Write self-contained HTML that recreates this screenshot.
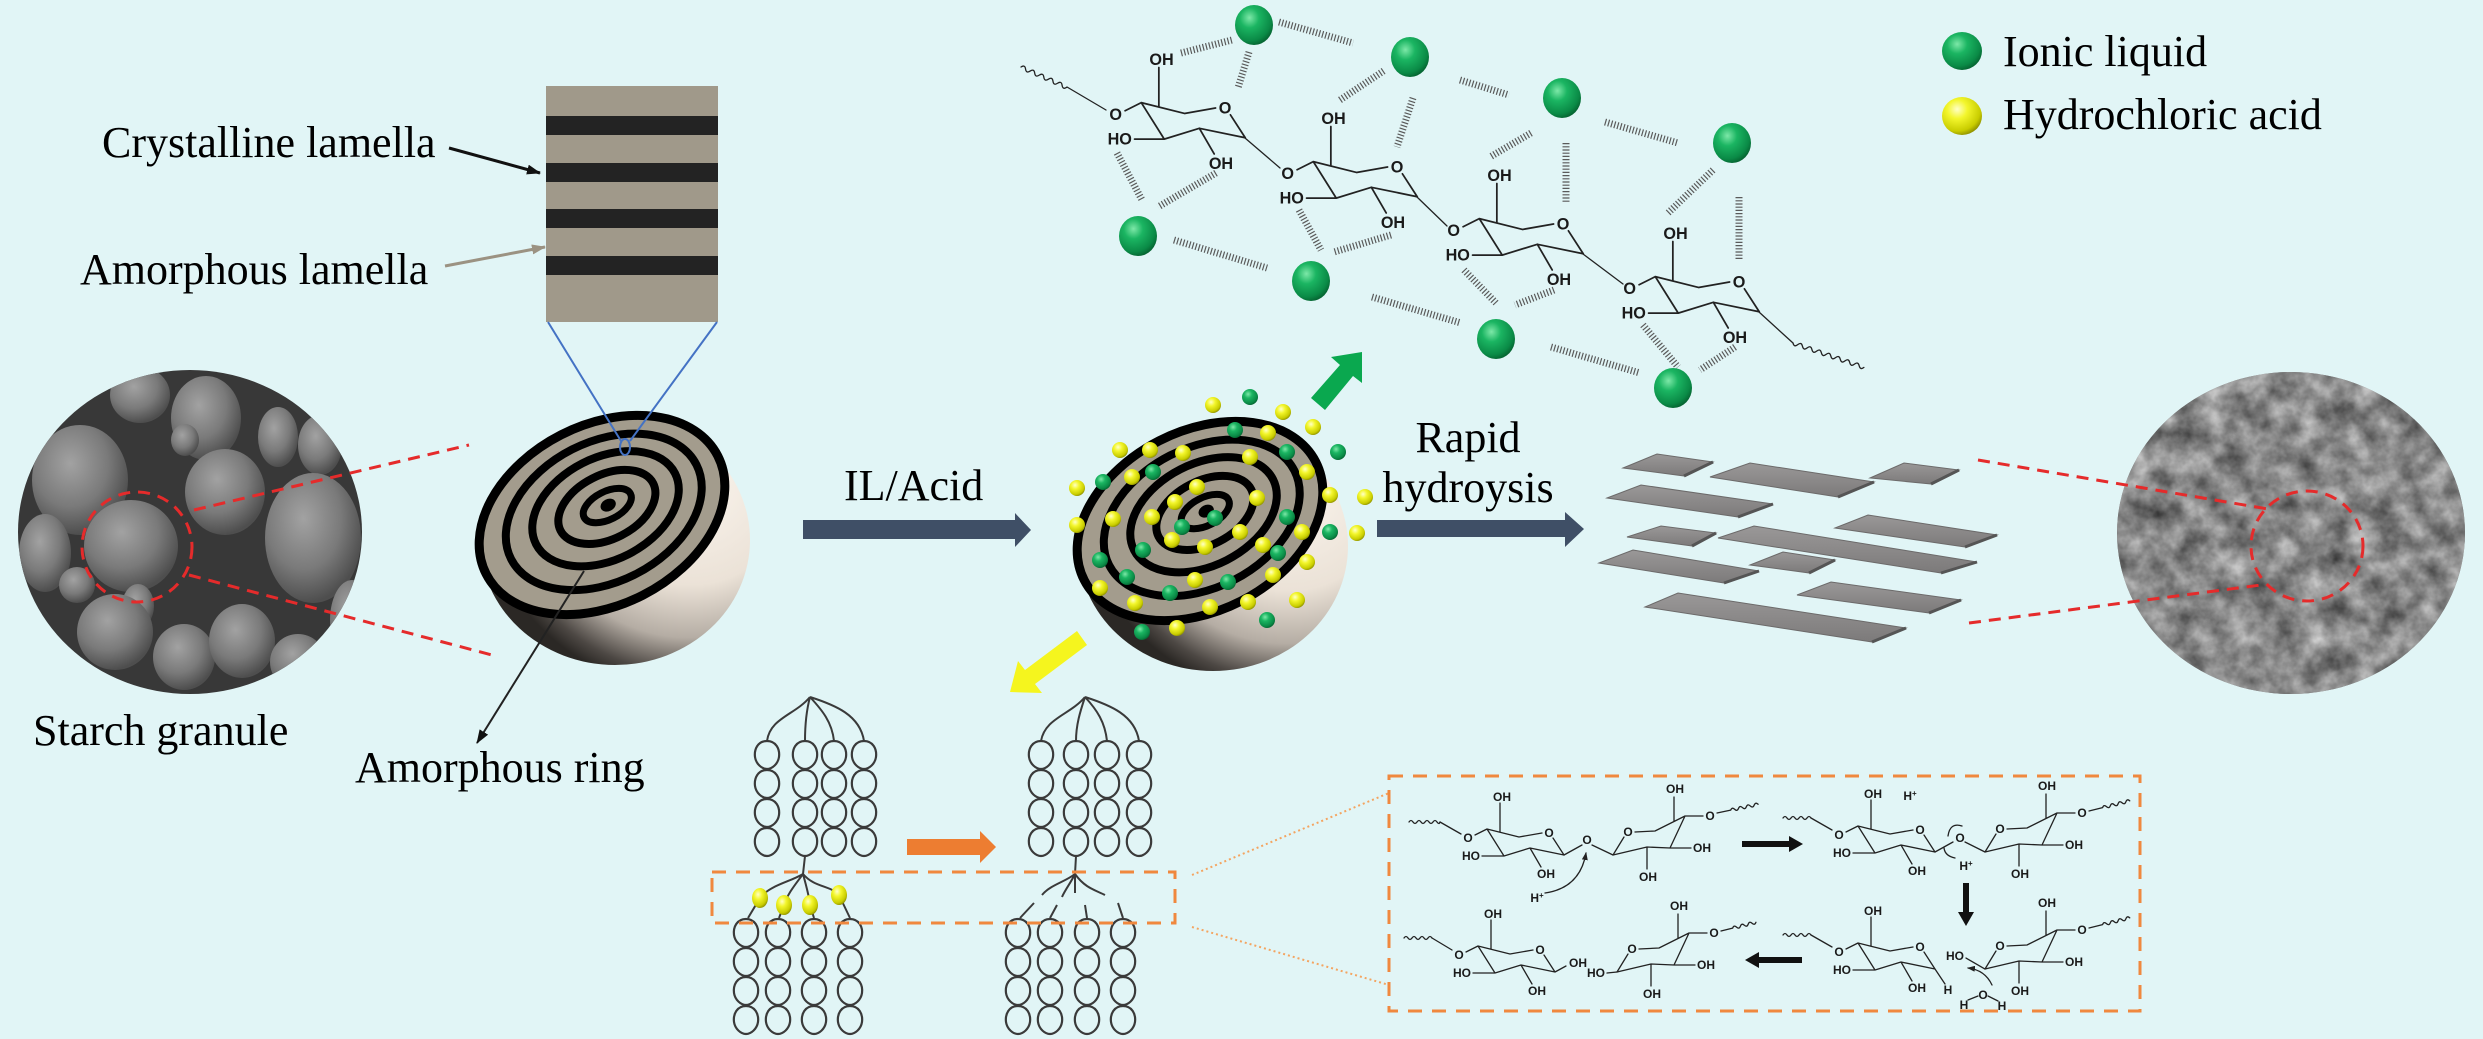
<!DOCTYPE html>
<html><head><meta charset="utf-8">
<style>
html,body{margin:0;padding:0;background:#e1f5f6;}
svg{display:block;}
.lbl{font-family:"Liberation Serif",serif;font-size:44px;fill:#000;}
.ch{font-family:"Liberation Sans",sans-serif;font-weight:bold;font-size:12px;fill:#1a1a1a;text-anchor:middle;}
.bd{stroke:#222;stroke-width:1.3;fill:none;stroke-linecap:round;stroke-linejoin:round;}
.hb{stroke:#5a5a5a;stroke-width:7;stroke-dasharray:1.2 2;fill:none;}
.loop{fill:none;stroke:#3a3a3a;stroke-width:2.2;}
.br{fill:none;stroke:#3a3a3a;stroke-width:2;}
.slab{fill:url(#slabG);stroke:#6c6a6a;stroke-width:1;}
.sd{stroke:#555;stroke-width:3;}
</style></head><body>
<svg width="2483" height="1039" viewBox="0 0 2483 1039" xmlns="http://www.w3.org/2000/svg">
<defs>
  <radialGradient id="gB" cx="0.38" cy="0.32" r="0.72">
    <stop offset="0" stop-color="#7de8a8"/><stop offset="0.35" stop-color="#1bb562"/><stop offset="0.8" stop-color="#0a8a46"/><stop offset="1" stop-color="#05602f"/>
  </radialGradient>
  <radialGradient id="yB" cx="0.38" cy="0.32" r="0.72">
    <stop offset="0" stop-color="#ffffc8"/><stop offset="0.35" stop-color="#f3f62c"/><stop offset="0.8" stop-color="#c9cd00"/><stop offset="1" stop-color="#8a8c00"/>
  </radialGradient>
  <radialGradient id="bodyG" gradientUnits="userSpaceOnUse" cx="690" cy="480" r="210">
    <stop offset="0" stop-color="#fbf5ee"/><stop offset="0.5" stop-color="#ebe2d7"/><stop offset="0.75" stop-color="#b5ada4"/><stop offset="0.92" stop-color="#4d4844"/><stop offset="1" stop-color="#2b2825"/>
  </radialGradient>
  <radialGradient id="gran" cx="0.4" cy="0.35" r="0.65">
    <stop offset="0" stop-color="#a2a2a2"/><stop offset="0.6" stop-color="#7a7a7a"/><stop offset="1" stop-color="#4e4e4e"/>
  </radialGradient>
  <linearGradient id="slabG" x1="0" y1="0" x2="0" y2="1">
    <stop offset="0" stop-color="#9a9898"/><stop offset="1" stop-color="#7c7a7a"/>
  </linearGradient>
  <clipPath id="bodyClip"><polygon points="246,697 958,333 1140,689 428,1053"/></clipPath>
  <clipPath id="cL"><ellipse cx="190" cy="532" rx="172" ry="162"/></clipPath>
  <clipPath id="cR"><ellipse cx="2291" cy="533" rx="174" ry="161"/></clipPath>
  <filter id="noise" filterUnits="userSpaceOnUse" x="2110" y="365" width="365" height="340" color-interpolation-filters="sRGB">
    <feTurbulence type="fractalNoise" baseFrequency="0.04" numOctaves="4" seed="7" result="n"/>
    <feColorMatrix in="n" type="matrix" values="0.7 0 0 0 0.18  0.7 0 0 0 0.18  0.7 0 0 0 0.18  0 0 0 0 1"/>
  </filter>
  <marker id="ahB" markerWidth="14" markerHeight="10" refX="13" refY="5" orient="auto" markerUnits="userSpaceOnUse"><path d="M0,0 L14,5 L0,10 Z" fill="#111"/></marker>
  <marker id="ahG" markerWidth="14" markerHeight="10" refX="13" refY="5" orient="auto" markerUnits="userSpaceOnUse"><path d="M0,0 L14,5 L0,10 Z" fill="#9b9282"/></marker>
  <marker id="ahS" markerWidth="8" markerHeight="6" refX="7" refY="3" orient="auto" markerUnits="userSpaceOnUse"><path d="M0,0 L8,3 L0,6 Z" fill="#222"/></marker>
  <g id="col">
    <path class="loop" d="M0,-14 C9,-14 13,-6 12,2 C11,9 5,14 0,14 C-5,14 -11,9 -12,2 C-13,-6 -9,-14 0,-14 Z"/>
    <path class="loop" transform="translate(0,29)" d="M0,-14 C9,-14 13,-6 12,2 C11,9 5,14 0,14 C-5,14 -11,9 -12,2 C-13,-6 -9,-14 0,-14 Z"/>
    <path class="loop" transform="translate(0,58)" d="M0,-14 C9,-14 13,-6 12,2 C11,9 5,14 0,14 C-5,14 -11,9 -12,2 C-13,-6 -9,-14 0,-14 Z"/>
    <path class="loop" transform="translate(0,87)" d="M0,-14 C9,-14 13,-6 12,2 C11,9 5,14 0,14 C-5,14 -11,9 -12,2 C-13,-6 -9,-14 0,-14 Z"/>
  </g>
</defs>

<rect x="0" y="0" width="2483" height="1039" fill="#e1f5f6"/>

<!-- Lamella stack -->
<rect x="546" y="86" width="172" height="236" fill="#a0998a"/>
<rect x="546" y="116" width="172" height="19" fill="#232323"/>
<rect x="546" y="163" width="172" height="19" fill="#232323"/>
<rect x="546" y="209" width="172" height="19" fill="#232323"/>
<rect x="546" y="256" width="172" height="19" fill="#232323"/>
<text class="lbl" x="102" y="157">Crystalline lamella</text>
<text class="lbl" x="80" y="284">Amorphous lamella</text>
<line x1="449" y1="148" x2="540" y2="173" stroke="#111" stroke-width="3" marker-end="url(#ahB)"/>
<line x1="445" y1="266" x2="545" y2="247" stroke="#9b9282" stroke-width="3" marker-end="url(#ahG)"/>

<!-- Left SEM -->
<g clip-path="url(#cL)">
  <rect x="10" y="360" width="370" height="340" fill="#383838"/>
  <ellipse cx="206" cy="418" rx="35" ry="42" fill="url(#gran)"/>
  <ellipse cx="80" cy="480" rx="48" ry="55" fill="url(#gran)"/>
  <ellipse cx="225" cy="492" rx="40" ry="43" fill="url(#gran)"/>
  <ellipse cx="185" cy="440" rx="14" ry="16" fill="url(#gran)"/>
  <ellipse cx="278" cy="437" rx="20" ry="30" fill="url(#gran)"/>
  <ellipse cx="320" cy="445" rx="22" ry="30" fill="url(#gran)"/>
  <ellipse cx="313" cy="538" rx="48" ry="65" fill="url(#gran)"/>
  <ellipse cx="45" cy="553" rx="26" ry="39" fill="url(#gran)"/>
  <ellipse cx="77" cy="585" rx="18" ry="18" fill="url(#gran)"/>
  <ellipse cx="131" cy="546" rx="47" ry="46" fill="url(#gran)"/>
  <ellipse cx="138" cy="606" rx="16" ry="22" fill="url(#gran)"/>
  <ellipse cx="115" cy="632" rx="38" ry="38" fill="url(#gran)"/>
  <ellipse cx="184" cy="657" rx="31" ry="33" fill="url(#gran)"/>
  <ellipse cx="242" cy="641" rx="33" ry="37" fill="url(#gran)"/>
  <ellipse cx="298" cy="662" rx="28" ry="28" fill="url(#gran)"/>
  <ellipse cx="140" cy="395" rx="30" ry="28" fill="url(#gran)"/>
  <ellipse cx="352" cy="620" rx="22" ry="40" fill="url(#gran)"/>
</g>
<ellipse cx="137" cy="547" rx="55" ry="55" fill="none" stroke="#e52b2b" stroke-width="3" stroke-dasharray="12 8"/>
<line x1="194" y1="510" x2="469" y2="445" stroke="#e52b2b" stroke-width="3" stroke-dasharray="12 8"/>
<line x1="189" y1="575" x2="492" y2="655" stroke="#e52b2b" stroke-width="3" stroke-dasharray="12 8"/>
<text class="lbl" x="33" y="745">Starch granule</text>

<!-- Half sphere 1 -->
<g>
  <ellipse cx="615" cy="540" rx="135" ry="125" fill="url(#bodyG)" clip-path="url(#bodyClip)"/>
  <g transform="translate(602,515) rotate(-27)">
    <ellipse rx="130" ry="90" fill="#a39c8d" stroke="#000" stroke-width="9"/>
    <ellipse cx="3" cy="-2" rx="104" ry="70" fill="none" stroke="#000" stroke-width="8"/>
    <ellipse cx="6" cy="-4" rx="78" ry="51" fill="none" stroke="#000" stroke-width="8"/>
    <ellipse cx="8" cy="-5" rx="52" ry="32" fill="none" stroke="#000" stroke-width="8"/>
    <ellipse cx="9" cy="-6" rx="26" ry="14" fill="none" stroke="#000" stroke-width="7"/>
    <ellipse cx="10" cy="-6" rx="8" ry="6" fill="#000"/>
  </g>
</g>
<line x1="548" y1="322" x2="621" y2="441" stroke="#4472c4" stroke-width="2"/>
<line x1="717" y1="322" x2="630" y2="441" stroke="#4472c4" stroke-width="2"/>
<ellipse cx="625" cy="447" rx="5" ry="8" fill="none" stroke="#4472c4" stroke-width="2"/>
<line x1="584" y1="571" x2="477" y2="743" stroke="#222" stroke-width="2" marker-end="url(#ahB)"/>
<text class="lbl" x="355" y="782">Amorphous ring</text>

<!-- IL/Acid arrow -->
<text class="lbl" x="844" y="500">IL/Acid</text>
<polygon points="803,520 1015,520 1015,513 1031,530 1015,547 1015,539 803,539" fill="#3f4f66"/>

<!-- Half sphere 2 -->
<g transform="translate(598,6)">
  <ellipse cx="615" cy="540" rx="135" ry="125" fill="url(#bodyG)" clip-path="url(#bodyClip)"/>
  <g transform="translate(602,515) rotate(-27)">
    <ellipse rx="130" ry="90" fill="#a39c8d" stroke="#000" stroke-width="9"/>
    <ellipse cx="3" cy="-2" rx="104" ry="70" fill="none" stroke="#000" stroke-width="8"/>
    <ellipse cx="6" cy="-4" rx="78" ry="51" fill="none" stroke="#000" stroke-width="8"/>
    <ellipse cx="8" cy="-5" rx="52" ry="32" fill="none" stroke="#000" stroke-width="8"/>
    <ellipse cx="9" cy="-6" rx="26" ry="14" fill="none" stroke="#000" stroke-width="7"/>
    <ellipse cx="10" cy="-6" rx="8" ry="6" fill="#000"/>
  </g>
</g>
<!-- dots on sphere 2 -->
<g fill="url(#yB)">
  <circle cx="1213" cy="405" r="8"/><circle cx="1283" cy="412" r="8"/><circle cx="1313" cy="427" r="8"/>
  <circle cx="1120" cy="450" r="8"/><circle cx="1150" cy="450" r="8"/><circle cx="1183" cy="453" r="8"/>
  <circle cx="1250" cy="457" r="8"/><circle cx="1268" cy="433" r="8"/><circle cx="1307" cy="472" r="8"/>
  <circle cx="1077" cy="488" r="8"/><circle cx="1132" cy="477" r="8"/><circle cx="1197" cy="487" r="8"/>
  <circle cx="1175" cy="502" r="8"/><circle cx="1257" cy="498" r="8"/><circle cx="1330" cy="495" r="8"/>
  <circle cx="1365" cy="497" r="8"/><circle cx="1077" cy="525" r="8"/><circle cx="1113" cy="519" r="8"/>
  <circle cx="1152" cy="517" r="8"/><circle cx="1172" cy="540" r="8"/><circle cx="1205" cy="547" r="8"/>
  <circle cx="1240" cy="532" r="8"/><circle cx="1263" cy="545" r="8"/><circle cx="1302" cy="532" r="8"/>
  <circle cx="1357" cy="533" r="8"/><circle cx="1307" cy="562" r="8"/><circle cx="1273" cy="575" r="8"/>
  <circle cx="1195" cy="580" r="8"/><circle cx="1100" cy="588" r="8"/><circle cx="1135" cy="603" r="8"/>
  <circle cx="1210" cy="607" r="8"/><circle cx="1248" cy="602" r="8"/><circle cx="1297" cy="600" r="8"/>
  <circle cx="1177" cy="628" r="8"/>
</g>
<g fill="url(#gB)">
  <circle cx="1250" cy="397" r="8"/><circle cx="1235" cy="430" r="8"/><circle cx="1287" cy="452" r="8"/>
  <circle cx="1338" cy="452" r="8"/><circle cx="1103" cy="482" r="8"/><circle cx="1153" cy="472" r="8"/>
  <circle cx="1215" cy="518" r="8"/><circle cx="1182" cy="527" r="8"/><circle cx="1287" cy="517" r="8"/>
  <circle cx="1330" cy="532" r="8"/><circle cx="1143" cy="550" r="8"/><circle cx="1100" cy="560" r="8"/>
  <circle cx="1278" cy="553" r="8"/><circle cx="1127" cy="577" r="8"/><circle cx="1228" cy="582" r="8"/>
  <circle cx="1170" cy="593" r="8"/><circle cx="1142" cy="632" r="8"/><circle cx="1267" cy="620" r="8"/>
</g>
<!-- green & yellow arrows -->
<polygon points="1311,398 1340,365 1331,357 1362,352 1362,383 1353,376 1325,410" fill="#0aa84f"/>
<polygon points="1077,631 1025,670 1018,661 1010,692 1042,693 1035,684 1087,645" fill="#f5f51e"/>

<!-- Rapid hydroysis -->
<text class="lbl" x="1468" y="452" text-anchor="middle">Rapid</text>
<text class="lbl" x="1468" y="502" text-anchor="middle">hydroysis</text>
<polygon points="1377,520 1565,520 1565,512 1584,529 1565,547 1565,537 1377,537" fill="#3f4f66"/>

<!-- slabs -->
<g>
  <polygon class="slab" points="1623,468 1657,454 1713,462 1684,476"/><line class="sd" x1="1713" y1="462" x2="1684" y2="476"/>
  <polygon class="slab" points="1710,477 1750,463 1874,482 1838,497"/><line class="sd" x1="1874" y1="482" x2="1838" y2="497"/>
  <polygon class="slab" points="1870,478 1904,463 1959,470 1931,484"/><line class="sd" x1="1959" y1="470" x2="1931" y2="484"/>
  <polygon class="slab" points="1607,498 1641,485 1773,504 1738,517"/><line class="sd" x1="1773" y1="504" x2="1738" y2="517"/>
  <polygon class="slab" points="1835,528 1868,515 1997,535 1965,547"/><line class="sd" x1="1997" y1="535" x2="1965" y2="547"/>
  <polygon class="slab" points="1627,537 1661,526 1716,533 1692,546"/><line class="sd" x1="1716" y1="533" x2="1692" y2="546"/>
  <polygon class="slab" points="1750,565 1783,552 1835,560 1809,573"/><line class="sd" x1="1835" y1="560" x2="1809" y2="573"/>
  <polygon class="slab" points="1718,538 1754,526 1977,562 1941,573"/><line class="sd" x1="1977" y1="562" x2="1941" y2="573"/>
  <polygon class="slab" points="1599,563 1633,550 1759,571 1724,583"/><line class="sd" x1="1759" y1="571" x2="1724" y2="583"/>
  <polygon class="slab" points="1797,595 1831,582 1961,600 1929,613"/><line class="sd" x1="1961" y1="600" x2="1929" y2="613"/>
  <polygon class="slab" points="1645,607 1678,593 1906,628 1872,642"/><line class="sd" x1="1906" y1="628" x2="1872" y2="642"/>
</g>

<!-- Right SEM -->
<ellipse cx="2291" cy="533" rx="174" ry="161" fill="#858585"/>
<rect x="2110" y="365" width="365" height="340" filter="url(#noise)" clip-path="url(#cR)"/>
<ellipse cx="2307" cy="546" rx="56" ry="55" fill="none" stroke="#e52b2b" stroke-width="3" stroke-dasharray="12 8"/>
<line x1="1978" y1="460" x2="2268" y2="509" stroke="#e52b2b" stroke-width="3" stroke-dasharray="12 8"/>
<line x1="1969" y1="623" x2="2261" y2="585" stroke="#e52b2b" stroke-width="3" stroke-dasharray="12 8"/>

<!-- Legend -->
<ellipse cx="1962" cy="51" rx="20" ry="19" fill="url(#gB)"/>
<ellipse cx="1962" cy="116" rx="20" ry="19" fill="url(#yB)"/>
<text class="lbl" x="2003" y="66">Ionic liquid</text>
<text class="lbl" x="2003" y="129">Hydrochloric acid</text>

<!-- Top chemical structure -->
<g>
  <path class="bd" stroke-width="1.6" transform="translate(1021,67) rotate(24)" d="M0,0 q2.5,-4 5,0 t5,0 t5,0 t5,0 t5,0 t5,0 t5,0 t5,0 t5,0 t5,0"/>
  <line class="bd" stroke-width="1.6" x1="1067" y1="87" x2="1106" y2="110"/>
  <g transform="translate(1225,104) scale(1.35)">
    <path class="bd" stroke-width="1.2" d="M-62,-1 L-30,7 L-7,3 M4,8 L15,25 L-19,18 L-45,26 L-62,-1 M-49,2 L-49,-27 M-74,5 L-62,-1 M-67,26 L-45,26 M-19,18 L-8,37"/>
    <text class="ch" x="0" y="7">O</text><text class="ch" x="-81" y="12">O</text>
    <text class="ch" x="-47" y="-29">OH</text><text class="ch" x="-78" y="30">HO</text><text class="ch" x="-3" y="48">OH</text>
  </g>
  <line class="bd" stroke-width="1.6" x1="1245" y1="138" x2="1280" y2="168"/>
  <g transform="translate(1397,163) scale(1.35)">
    <path class="bd" stroke-width="1.2" d="M-62,-1 L-30,7 L-7,3 M4,8 L15,25 L-19,18 L-45,26 L-62,-1 M-49,2 L-49,-27 M-74,5 L-62,-1 M-67,26 L-45,26 M-19,18 L-8,37"/>
    <text class="ch" x="0" y="7">O</text><text class="ch" x="-81" y="12">O</text>
    <text class="ch" x="-47" y="-29">OH</text><text class="ch" x="-78" y="30">HO</text><text class="ch" x="-3" y="48">OH</text>
  </g>
  <line class="bd" stroke-width="1.6" x1="1417" y1="197" x2="1447" y2="226"/>
  <g transform="translate(1563,220) scale(1.35)">
    <path class="bd" stroke-width="1.2" d="M-62,-1 L-30,7 L-7,3 M4,8 L15,25 L-19,18 L-45,26 L-62,-1 M-49,2 L-49,-27 M-74,5 L-62,-1 M-67,26 L-45,26 M-19,18 L-8,37"/>
    <text class="ch" x="0" y="7">O</text><text class="ch" x="-81" y="12">O</text>
    <text class="ch" x="-47" y="-29">OH</text><text class="ch" x="-78" y="30">HO</text><text class="ch" x="-3" y="48">OH</text>
  </g>
  <line class="bd" stroke-width="1.6" x1="1583" y1="254" x2="1623" y2="284"/>
  <g transform="translate(1739,278) scale(1.35)">
    <path class="bd" stroke-width="1.2" d="M-62,-1 L-30,7 L-7,3 M4,8 L15,25 L-19,18 L-45,26 L-62,-1 M-49,2 L-49,-27 M-74,5 L-62,-1 M-67,26 L-45,26 M-19,18 L-8,37"/>
    <text class="ch" x="0" y="7">O</text><text class="ch" x="-81" y="12">O</text>
    <text class="ch" x="-47" y="-29">OH</text><text class="ch" x="-78" y="30">HO</text><text class="ch" x="-3" y="48">OH</text>
  </g>
  <line class="bd" stroke-width="1.6" x1="1759" y1="312" x2="1793" y2="343"/>
  <path class="bd" stroke-width="1.6" transform="translate(1793,343) rotate(19)" d="M0,0 q2.5,4 5,0 t5,0 t5,0 t5,0 t5,0 t5,0 t5,0 t5,0 t5,0 t5,0 t5,0 t5,0 t5,0 t5,0 t5,0"/>
  <!-- hydrogen-bond hatches -->
  <line class="hb" x1="1181" y1="53" x2="1232" y2="40"/>
  <line class="hb" x1="1279" y1="22" x2="1353" y2="43"/>
  <line class="hb" x1="1249" y1="52" x2="1238" y2="88"/>
  <line class="hb" x1="1340" y1="100" x2="1385" y2="70"/>
  <line class="hb" x1="1413" y1="98" x2="1397" y2="147"/>
  <line class="hb" x1="1460" y1="80" x2="1509" y2="95"/>
  <line class="hb" x1="1605" y1="122" x2="1678" y2="143"/>
  <line class="hb" x1="1531" y1="133" x2="1490" y2="157"/>
  <line class="hb" x1="1566" y1="143" x2="1566" y2="203"/>
  <line class="hb" x1="1713" y1="170" x2="1668" y2="213"/>
  <line class="hb" x1="1739" y1="197" x2="1739" y2="260"/>
  <line class="hb" x1="1117" y1="153" x2="1142" y2="200"/>
  <line class="hb" x1="1216" y1="173" x2="1158" y2="207"/>
  <line class="hb" x1="1174" y1="240" x2="1267" y2="268"/>
  <line class="hb" x1="1299" y1="210" x2="1321" y2="250"/>
  <line class="hb" x1="1391" y1="235" x2="1334" y2="252"/>
  <line class="hb" x1="1372" y1="297" x2="1461" y2="323"/>
  <line class="hb" x1="1464" y1="270" x2="1496" y2="303"/>
  <line class="hb" x1="1554" y1="290" x2="1515" y2="305"/>
  <line class="hb" x1="1551" y1="347" x2="1640" y2="373"/>
  <line class="hb" x1="1643" y1="325" x2="1678" y2="367"/>
  <line class="hb" x1="1735" y1="347" x2="1700" y2="370"/>
  <!-- big green balls -->
  <ellipse cx="1254" cy="25" rx="19" ry="20" fill="url(#gB)"/>
  <ellipse cx="1410" cy="57" rx="19" ry="20" fill="url(#gB)"/>
  <ellipse cx="1562" cy="98" rx="19" ry="20" fill="url(#gB)"/>
  <ellipse cx="1732" cy="143" rx="19" ry="20" fill="url(#gB)"/>
  <ellipse cx="1138" cy="236" rx="19" ry="20" fill="url(#gB)"/>
  <ellipse cx="1311" cy="281" rx="19" ry="20" fill="url(#gB)"/>
  <ellipse cx="1496" cy="339" rx="19" ry="20" fill="url(#gB)"/>
  <ellipse cx="1673" cy="388" rx="19" ry="20" fill="url(#gB)"/>
</g>

<!-- Cluster diagrams -->
<g>
  <use href="#col" x="767" y="755"/><use href="#col" x="805" y="755"/><use href="#col" x="834" y="755"/><use href="#col" x="864" y="755"/>
  <use href="#col" x="746" y="933"/><use href="#col" x="778" y="933"/><use href="#col" x="814" y="933"/><use href="#col" x="850" y="933"/>
  <path class="br" d="M810,697 C795,715 770,718 767,741 M810,697 C806,712 805,725 805,741 M810,697 C822,710 832,722 834,741 M810,697 C835,705 860,715 864,741"/>
  <path class="br" d="M805,856 L803,874 M803,874 C790,882 770,885 760,898 L748,918 M803,874 C795,885 788,893 784,905 L779,918 M803,874 C806,885 809,895 810,905 L814,918 M803,874 C815,888 830,885 839,895 L850,918"/>
  <ellipse cx="760" cy="898" rx="8" ry="10" fill="url(#yB)"/>
  <ellipse cx="784" cy="905" rx="8" ry="10" fill="url(#yB)"/>
  <ellipse cx="810" cy="905" rx="8" ry="10" fill="url(#yB)"/>
  <ellipse cx="839" cy="895" rx="8" ry="10" fill="url(#yB)"/>

  <use href="#col" x="1041" y="755"/><use href="#col" x="1076" y="755"/><use href="#col" x="1107" y="755"/><use href="#col" x="1139" y="755"/>
  <use href="#col" x="1018" y="933"/><use href="#col" x="1050" y="933"/><use href="#col" x="1087" y="933"/><use href="#col" x="1123" y="933"/>
  <path class="br" d="M1085,697 C1070,715 1045,718 1041,741 M1085,697 C1080,712 1076,725 1076,741 M1085,697 C1097,710 1105,722 1107,741 M1085,697 C1110,705 1135,715 1139,741"/>
  <path class="br" d="M1076,856 L1075,874 M1075,874 C1065,882 1050,885 1042,895 M1075,874 C1070,884 1065,890 1062,897 M1075,874 L1075,893 M1075,874 C1085,888 1095,890 1105,895 M1034,903 L1020,918 M1057,905 L1050,918 M1085,905 L1087,918 M1118,903 L1123,918"/>
  <rect x="712" y="872" width="463" height="51" fill="none" stroke="#f0883e" stroke-width="3" stroke-dasharray="14 10"/>
  <polygon points="907,839 980,839 980,831 996,847 980,863 980,855 907,855" fill="#ed7d31"/>
</g>

<!-- Dotted connectors -->
<line x1="1192" y1="875" x2="1389" y2="793" stroke="#f4a460" stroke-width="2" stroke-dasharray="2 3"/>
<line x1="1192" y1="927" x2="1389" y2="985" stroke="#f4a460" stroke-width="2" stroke-dasharray="2 3"/>

<!-- Big mechanism box -->
<rect x="1389" y="776" width="751" height="235" fill="none" stroke="#f0883e" stroke-width="3" stroke-dasharray="14 10"/>

<!-- S1 -->
<path class="bd" transform="translate(1409,822)" d="M0,0 q2,-3 4,0 t4,0 t4,0 t4,0 t4,0 t4,0 t4,0 t3,0"/>
<line class="bd" x1="1440" y1="822" x2="1461" y2="834"/>
<g transform="translate(1549,830)">
  <path class="bd" d="M-62,-1 L-30,7 L-7,3 M4,8 L15,25 L-19,18 L-45,26 L-62,-1 M-49,2 L-49,-27 M-74,5 L-62,-1 M-67,26 L-45,26 M-19,18 L-8,37"/>
  <text class="ch" x="0" y="7">O</text><text class="ch" x="-81" y="12">O</text>
  <text class="ch" x="-47" y="-29">OH</text><text class="ch" x="-78" y="30">HO</text><text class="ch" x="-3" y="48">OH</text>
</g>
<line class="bd" x1="1564" y1="855" x2="1582" y2="845"/><text class="ch" x="1587" y="844">O</text><line class="bd" x1="1592" y1="845" x2="1613" y2="855"/>
<g transform="translate(1628,830)">
  <path class="bd" d="M7,2 L27,1 L57,-14 L42,18 L19,17 L-15,25 L-4,7 M46,-9 L46,-33 M57,-14 L75,-14 M19,17 L19,39 M42,18 L63,18"/>
  <text class="ch" x="0" y="6">O</text><text class="ch" x="47" y="-37">OH</text><text class="ch" x="82" y="-10">O</text>
  <text class="ch" x="20" y="51">OH</text><text class="ch" x="74" y="22">OH</text>
</g>
<path class="bd" transform="translate(1717,813) rotate(-12)" d="M0,0 l14,0 q2,-3 4,0 t4,0 t4,0 t4,0 t4,0 t4,0 t4,0"/>
<text class="ch" x="1537" y="902">H<tspan dy="-4" font-size="8">+</tspan></text>
<path class="bd" d="M1545,893 Q1580,888 1586,853" marker-end="url(#ahS)"/>

<!-- arrows in box -->
<polygon points="1742,841 1789,841 1789,836 1803,844 1789,852 1789,847 1742,847" fill="#111"/>
<polygon points="1963,883 1969,883 1969,912 1974,912 1966,926 1958,912 1963,912" fill="#111"/>
<polygon points="1802,957 1759,957 1759,952 1745,960 1759,968 1759,963 1802,963" fill="#111"/>

<!-- S2 -->
<path class="bd" transform="translate(1783,818)" d="M0,0 q2,-3 4,0 t4,0 t4,0 t4,0 t4,0 t4,0 t4,0"/>
<line class="bd" x1="1811" y1="818" x2="1832" y2="830"/>
<g transform="translate(1920,827)">
  <path class="bd" d="M-62,-1 L-30,7 L-7,3 M4,8 L15,25 L-19,18 L-45,26 L-62,-1 M-49,2 L-49,-27 M-74,5 L-62,-1 M-67,26 L-45,26 M-19,18 L-8,37"/>
  <text class="ch" x="0" y="7">O</text><text class="ch" x="-81" y="12">O</text>
  <text class="ch" x="-47" y="-29">OH</text><text class="ch" x="-78" y="30">HO</text><text class="ch" x="-3" y="48">OH</text>
</g>
<text class="ch" x="1910" y="800">H<tspan dy="-4" font-size="8">+</tspan></text>
<line class="bd" x1="1935" y1="852" x2="1953" y2="842"/><text class="ch" x="1960" y="842">O</text><line class="bd" x1="1965" y1="842" x2="1985" y2="852"/>
<text class="ch" x="1966" y="870">H<tspan dy="-4" font-size="8">+</tspan></text>
<path class="bd" d="M1948,836 Q1950,822 1962,826 M1955,858 Q1945,856 1944,848"/>
<g transform="translate(2000,827)">
  <path class="bd" d="M7,2 L27,1 L57,-14 L42,18 L19,17 L-15,25 L-4,7 M46,-9 L46,-33 M57,-14 L75,-14 M19,17 L19,39 M42,18 L63,18"/>
  <text class="ch" x="0" y="6">O</text><text class="ch" x="47" y="-37">OH</text><text class="ch" x="82" y="-10">O</text>
  <text class="ch" x="20" y="51">OH</text><text class="ch" x="74" y="22">OH</text>
</g>
<path class="bd" transform="translate(2089,811) rotate(-14)" d="M0,0 l14,0 q2,-3 4,0 t4,0 t4,0 t4,0 t4,0 t4,0 t4,0"/>

<!-- S3 -->
<path class="bd" transform="translate(1783,935)" d="M0,0 q2,-3 4,0 t4,0 t4,0 t4,0 t4,0 t4,0 t4,0"/>
<line class="bd" x1="1811" y1="935" x2="1832" y2="947"/>
<g transform="translate(1920,944)">
  <path class="bd" d="M-62,-1 L-30,7 L-7,3 M4,8 L15,25 L-19,18 L-45,26 L-62,-1 M-49,2 L-49,-27 M-74,5 L-62,-1 M-67,26 L-45,26 M-19,18 L-8,37 M15,25 L25,40"/>
  <text class="ch" x="0" y="7">O</text><text class="ch" x="-81" y="12">O</text>
  <text class="ch" x="-47" y="-29">OH</text><text class="ch" x="-78" y="30">HO</text><text class="ch" x="-3" y="48">OH</text>
  <text class="ch" x="28" y="50">H</text>
</g>
<text class="ch" x="1955" y="960">HO</text><line class="bd" x1="1966" y1="958" x2="1985" y2="969"/>
<path class="bd" d="M1992,985 Q1985,970 1968,968" marker-end="url(#ahS)"/>
<text class="ch" x="1964" y="1009">H</text><text class="ch" x="1983" y="999">O</text><text class="ch" x="2002" y="1010">H</text>
<line class="bd" x1="1968" y1="1000" x2="1978" y2="996"/><line class="bd" x1="1988" y1="996" x2="1998" y2="1001"/>
<g transform="translate(2000,944)">
  <path class="bd" d="M7,2 L27,1 L57,-14 L42,18 L19,17 L-15,25 L-4,7 M46,-9 L46,-33 M57,-14 L75,-14 M19,17 L19,39 M42,18 L63,18"/>
  <text class="ch" x="0" y="6">O</text><text class="ch" x="47" y="-37">OH</text><text class="ch" x="82" y="-10">O</text>
  <text class="ch" x="20" y="51">OH</text><text class="ch" x="74" y="22">OH</text>
</g>
<path class="bd" transform="translate(2089,928) rotate(-14)" d="M0,0 l14,0 q2,-3 4,0 t4,0 t4,0 t4,0 t4,0 t4,0 t4,0"/>

<!-- S4 -->
<path class="bd" transform="translate(1404,938)" d="M0,0 q2,-3 4,0 t4,0 t4,0 t4,0 t4,0 t4,0 t4,0"/>
<line class="bd" x1="1432" y1="938" x2="1452" y2="950"/>
<g transform="translate(1540,947)">
  <path class="bd" d="M-62,-1 L-30,7 L-7,3 M4,8 L15,25 L-19,18 L-45,26 L-62,-1 M-49,2 L-49,-27 M-74,5 L-62,-1 M-67,26 L-45,26 M-19,18 L-8,37 M15,25 L26,19"/>
  <text class="ch" x="0" y="7">O</text><text class="ch" x="-81" y="12">O</text>
  <text class="ch" x="-47" y="-29">OH</text><text class="ch" x="-78" y="30">HO</text><text class="ch" x="-3" y="48">OH</text>
  <text class="ch" x="38" y="20">OH</text>
</g>
<text class="ch" x="1596" y="977">HO</text><line class="bd" x1="1607" y1="973" x2="1617" y2="972"/>
<g transform="translate(1632,947)">
  <path class="bd" d="M7,2 L27,1 L57,-14 L42,18 L19,17 L-15,25 L-4,7 M46,-9 L46,-33 M57,-14 L75,-14 M19,17 L19,39 M42,18 L63,18"/>
  <text class="ch" x="0" y="6">O</text><text class="ch" x="47" y="-37">OH</text><text class="ch" x="82" y="-10">O</text>
  <text class="ch" x="20" y="51">OH</text><text class="ch" x="74" y="22">OH</text>
</g>
<path class="bd" transform="translate(1721,931) rotate(-14)" d="M0,0 l12,0 q2,-3 4,0 t4,0 t4,0 t4,0 t4,0 t4,0"/>

</svg>
</body></html>
